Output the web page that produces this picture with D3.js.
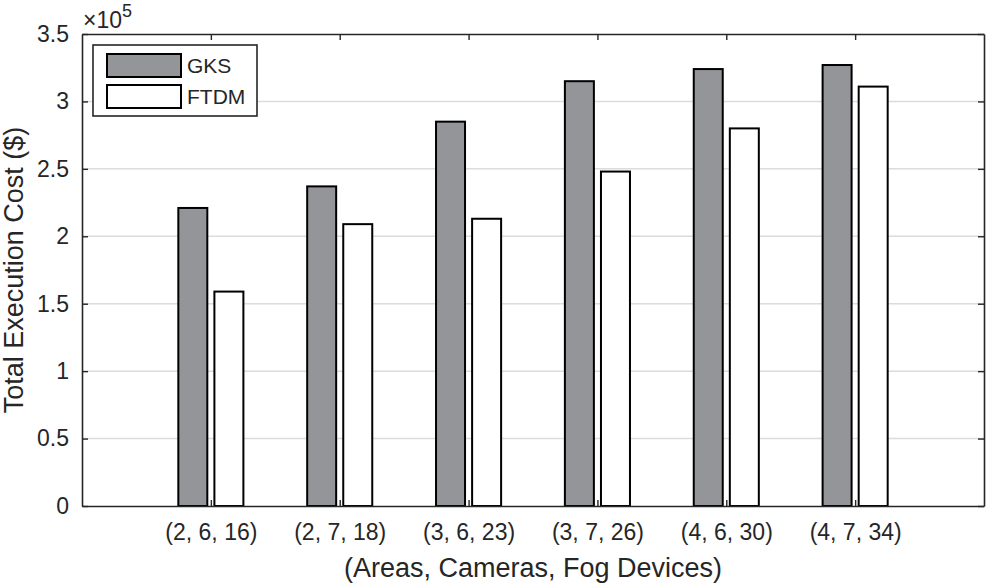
<!DOCTYPE html>
<meta charset="utf-8">
<style>
body{ margin:0; background:#fff; }
text{ font-family:"Liberation Sans", Arial, sans-serif; fill:#262626; }
.grid line{ stroke:#dcdcdc; stroke-width:1.5px; }
.bar{ stroke:#000; stroke-width:2px; }
</style>
<body>
<div id="chart"></div>
<script src="https://d3js.org/d3.v7.min.js"></script>
<script>
var categories = ["(2, 6, 16)", "(2, 7, 18)", "(3, 6, 23)", "(3, 7, 26)", "(4, 6, 30)", "(4, 7, 34)"];
var gks  = [2.21, 2.37, 2.85, 3.15, 3.24, 3.27];
var ftdm = [1.59, 2.09, 2.13, 2.48, 2.80, 3.11];
var seriesNames = ["GKS", "FTDM"];
var seriesColors = ["#949599", "#ffffff"];
var yTicks = [0, 0.5, 1, 1.5, 2, 2.5, 3, 3.5];

var W = 1005, H = 587;
var m = {left:82, right:21, top:34, bottom:81};
var iw = W - m.left - m.right, ih = H - m.top - m.bottom;

var svg = d3.select("#chart").append("svg").attr("width", W).attr("height", H);
var g = svg.append("g").attr("transform", "translate(" + m.left + "," + m.top + ")");

var x = d3.scaleLinear().domain([0, 7]).range([0, iw]);
var y = d3.scaleLinear().domain([0, 3.5]).range([ih, 0]);

// grid
g.append("g").attr("class","grid").selectAll("line")
    .data(yTicks.slice(1, -1)).enter().append("line")
    .attr("x1", 0).attr("x2", iw)
    .attr("y1", d => y(d)).attr("y2", d => y(d));

// bars
var barW = 0.225, off = 0.14;
var series = [gks, ftdm];
series.forEach(function(vals, s){
    g.selectAll(".bar.s" + s).data(vals).enter().append("rect")
        .attr("class", "bar s" + s)
        .attr("x", (d, i) => x(i + 1 + (s == 0 ? -off : off) - barW / 2))
        .attr("width", x(barW) - x(0))
        .attr("y", d => y(d))
        .attr("height", d => ih - y(d))
        .attr("fill", seriesColors[s]);
});

// axes
var tickLen = 6;
var xAxis = g.append("g").attr("transform", "translate(0," + ih + ")")
    .call(d3.axisBottom(x).tickValues(d3.range(1, 7)).tickFormat(d => categories[d - 1])
        .tickSizeInner(-tickLen).tickSizeOuter(0).tickPadding(18));
var xTop = g.append("g")
    .call(d3.axisTop(x).tickValues(d3.range(1, 7)).tickFormat("")
        .tickSizeInner(-tickLen).tickSizeOuter(0));
var yAxis = g.append("g")
    .call(d3.axisLeft(y).tickValues(yTicks).tickFormat(d3.format("~g"))
        .tickSizeInner(-tickLen).tickSizeOuter(0).tickPadding(13));
var yRight = g.append("g").attr("transform", "translate(" + iw + ",0)")
    .call(d3.axisRight(y).tickValues(yTicks).tickFormat("")
        .tickSizeInner(-tickLen).tickSizeOuter(0));
[xAxis, xTop, yAxis, yRight].forEach(function(a){
    a.attr("font-family", null).attr("font-size", null);
    a.selectAll(".domain").attr("stroke", "#262626").attr("stroke-width", 1.6);
    a.selectAll(".tick line").attr("stroke", "#262626").attr("stroke-width", 1.4);
    a.selectAll(".tick text").attr("fill", "#262626").style("font-size", "23px");
});

// exponent label
var ex = svg.append("text").attr("x", m.left + 1).attr("y", 28).style("font-size", "23px");
ex.append("tspan").text("\u00d710");
ex.append("tspan").attr("dy", -11).style("font-size", "18px").text("5");

// axis titles
svg.append("text").attr("x", m.left + iw / 2).attr("y", 577)
    .attr("text-anchor", "middle").style("font-size", "27px")
    .text("(Areas, Cameras, Fog Devices)");
svg.append("text").attr("transform", "translate(23," + (m.top + ih / 2) + ") rotate(-90)")
    .attr("text-anchor", "middle").style("font-size", "27px")
    .text("Total Execution Cost ($)");

// legend
var lg = svg.append("g").attr("transform", "translate(93,45)");
lg.append("rect").attr("width", 164).attr("height", 71)
    .attr("fill", "#fff").attr("stroke", "#262626").attr("stroke-width", 1.6);
seriesNames.forEach(function(n, i){
    lg.append("rect").attr("class", "bar")
        .attr("x", 14).attr("y", 9 + i * 31).attr("width", 74).attr("height", 23)
        .attr("fill", seriesColors[i]);
    lg.append("text").attr("x", 94).attr("y", 28 + i * 31)
        .style("font-size", "21px").text(n);
});
</script>
</body>
</html>
